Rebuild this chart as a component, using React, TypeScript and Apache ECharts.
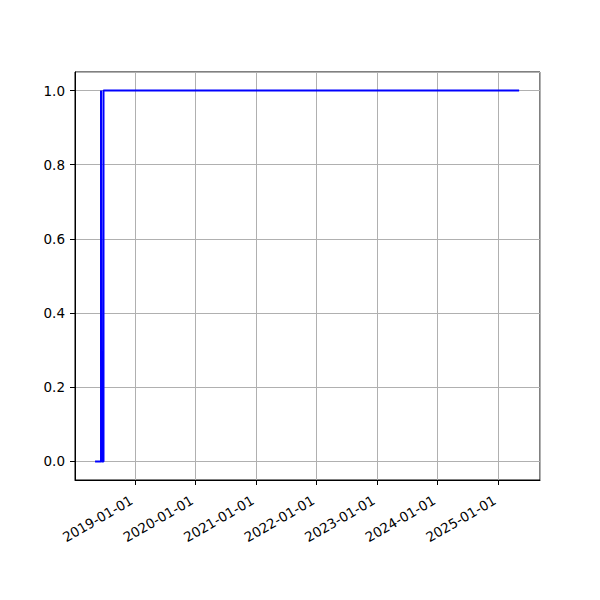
import React, { useEffect, useRef } from "react";
import * as echarts from "echarts";

const dates = ["2018-05-05", "2018-06-10", "2018-06-10", "2018-06-14", "2018-06-14", "2018-06-25", "2018-06-25", "2025-05-07"];
const values = [0, 0, 1, 1, 0, 0, 1, 1];

const DAY = 86400000;

export default function App() {
  const ref = useRef<HTMLDivElement>(null);
  useEffect(() => {
    const chart = echarts.init(ref.current!, null, { renderer: "svg" });
    const font = "DejaVu Sans";
    chart.setOption({
      animation: false,
      backgroundColor: "#ffffff",
      grid: {
        left: 75,
        right: 60,
        top: 72,
        bottom: 120,
        show: true,
        borderColor: "#000",
        borderWidth: 1,
        backgroundColor: "transparent",
      },
      xAxis: {
        type: "time",
        min: new Date("2018-01-04").getTime(),
        max: new Date("2025-09-10").getTime(),
        minInterval: 365 * DAY,
        maxInterval: 366 * DAY,
        splitNumber: 8,
        axisLine: { show: true, onZero: false, lineStyle: { color: "#000", width: 1 } },
        axisTick: { show: true, length: 5, lineStyle: { color: "#000" } },
        axisLabel: {
          rotate: 30,
          color: "#000",
          fontFamily: font,
          fontSize: 13.5,
          margin: 17,
          padding: [0, 4, 0, 0],
          formatter: (v: number) => {
            const d = new Date(v);
            return `${d.getUTCFullYear()}-${String(d.getUTCMonth() + 1).padStart(2, "0")}-${String(d.getUTCDate()).padStart(2, "0")}`;
          },
        },
        splitLine: { show: true, lineStyle: { color: "#b0b0b0", width: 1 } },
      },
      yAxis: {
        type: "value",
        min: -0.05,
        max: 1.05,
        splitNumber: 5,
        axisLine: { show: true, lineStyle: { color: "#000", width: 1 } },
        axisTick: { show: true, length: 5, lineStyle: { color: "#000" } },
        axisLabel: {
          color: "#000",
          fontFamily: font,
          fontSize: 13.5,
          margin: 10,
          showMinLabel: false,
          showMaxLabel: false,
          formatter: (v: number) => v.toFixed(1),
        },
        splitLine: { show: true, lineStyle: { color: "#b0b0b0", width: 1 } },
      },
      series: [
        {
          type: "line",
          data: dates.map((d, i) => [new Date(d).getTime(), values[i]]),
          showSymbol: false,
          lineStyle: { color: "#0000ff", width: 2 },
        },
      ],
    });
    return () => chart.dispose();
  }, []);
  return <div ref={ref} style={{ width: 600, height: 600, position: "absolute", left: 0, top: 0 }} />;
}
